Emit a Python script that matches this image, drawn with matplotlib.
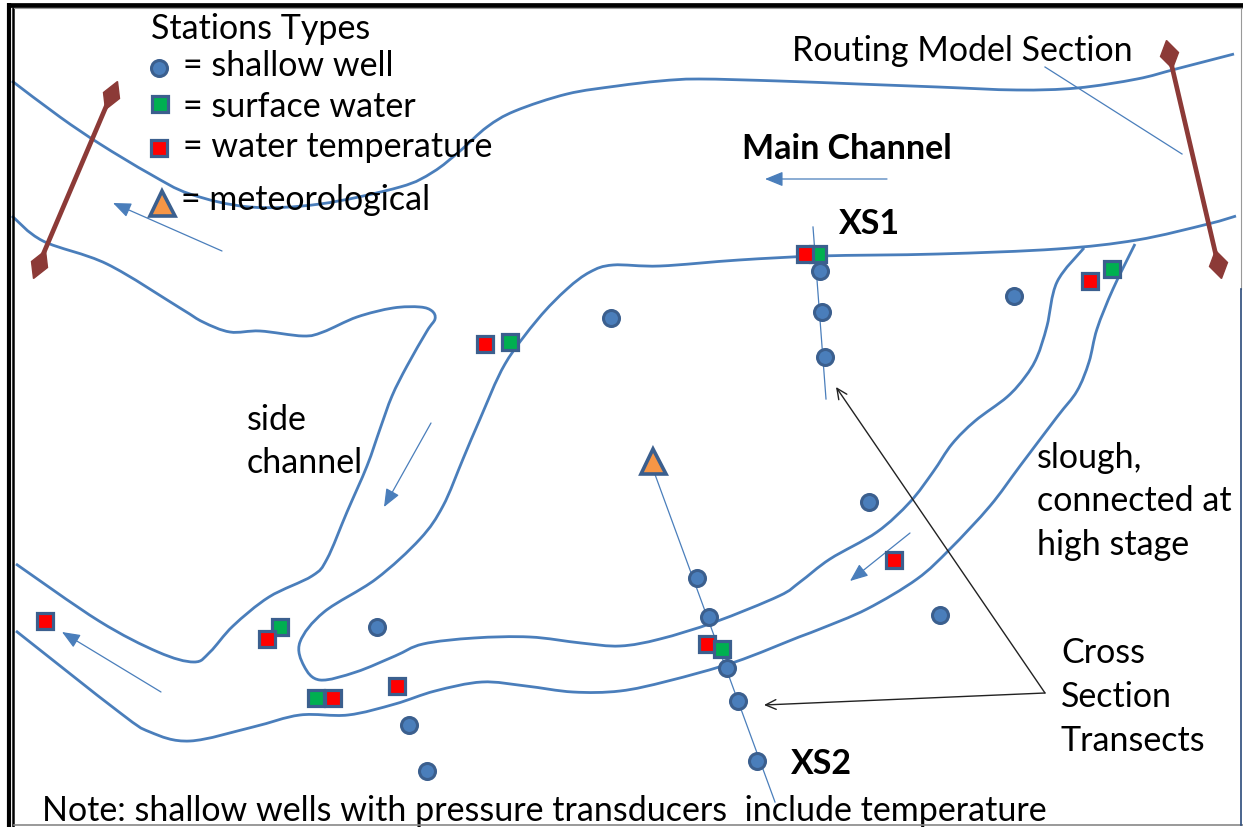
import matplotlib
matplotlib.use('Agg')
import matplotlib.pyplot as plt
from matplotlib.markers import MarkerStyle
from matplotlib.path import Path
from matplotlib.patches import PathPatch
from matplotlib.transforms import Affine2D
import numpy as np

plt.rcParams['font.family'] = ['Lato', 'DejaVu Sans']

# =============================================================================
# Data (pixel coordinates)
# =============================================================================
bank_top = [(12,82),(60,118),(100,145),(150,175),(190,195),(250,208),(320,205),(400,188),(433,173),
            (460,152),(487,128),(515,112),(567,95),(617,87),(660,82),(699,80),(779,82),(858,85),(938,88),
            (1017,91),(1077,89),(1137,80),(1176,70),(1234,55)]
bank_main = [(1236,217),(1208,225),(1137,241),(1057,250),(938,255),(819,257),(739,261),(660,267),
             (613,266),(590,273),(567,290),(538,320),(505,365),(480,420),(463,460),(443,507),(420,540),
             (376,580),(324,613),(300,643),(304,667),(320,681),(356,673),(395,657),(423,645),(474,639),
             (530,638),(581,644),(620,647),(660,640),(715,623),(779,597),(800,583),(830,560),(877,533),
             (910,503),(933,473),(952,445),(975,422),(1007,398),(1025,378),(1037,358),(1047,327),
             (1057,283),(1084,249)]
bank_slough = [(1135,245),(1113,290),(1097,330),(1089,363),(1077,392),(1057,418),(1020,467),(990,507),
               (950,550),(917,580),(867,610),(820,630),(799,638),(735,663),(668,682),(620,692),(573,693),
               (526,687),(482,683),(435,692),(395,705),(348,716),(300,716),(253,728),(190,742),(150,733),
               (119,713),(16,632)]
bank_side = [(12,217),(43,242),(107,265),(180,309),(203,323),(230,333),(260,332),(303,337),(323,333),
             (357,318),(393,309),(420,308),(432,312),(435,320),(427,332),(407,367),(392,397),(380,430),
             (367,467),(347,513),(327,560),(312,577),(269,598),(233,627),(210,653),(194,663),(158,653),
             (99,622),(16,565)]

well_x = [159,820,822,825,1014,611,869,940,697,709,727,738,757,377,409,427]
well_y = [69,272,313,358,297,319,503,616,579,618,669,702,762,628,726,772]
surface_x = [160,818,510,1112,280,316]
surface_y = [105,255,343,270,628,699]
temp_x = [159,805,485,1090,267,333,397,707,894,45]
temp_y = [149,255,345,282,640,699,687,645,561,622]
surface_top_x = [722]
surface_top_y = [650]
met_x = [162,653]
met_y = [204,462]

section_lines = [((111,96),(39,265)), ((1169,55),(1218,265))]
transects = [((813,228),(826,400)), ((653,470),(775,803))]
leader = ((1045,68),(1182,155))
flow_arrows = [((222,252),(113,204)), ((887,180),(765,180)), ((431,424),(384,508)),
               ((910,534),(850,582)), ((161,693),(62,633))]
xs_arrows = [((1045,694),(836,388)), ((1045,694),(764,706))]

# text, x, y, weight
labels = [('Stations Types',151,29,'normal'), ('= shallow well',183,66,'normal'),
          ('= surface water',183,107,'normal'), ('= water temperature',183,147,'normal'),
          ('= meteorological',181,200,'normal'), ('Routing Model Section',792,51,'normal'),
          ('Main Channel',742,149,'bold'), ('XS1',839,224,'bold'), ('XS2',791,764,'bold'),
          ('side',247,420,'normal'), ('channel',247,463,'normal'), ('slough,',1037,458,'normal'),
          ('connected at',1037,501,'normal'), ('high stage',1037,545,'normal'), ('Cross',1061,653,'normal'),
          ('Section',1061,697,'normal'), ('Transects',1061,741,'normal'),
          ('Note: shallow wells with pressure transducers  include temperature',42,811,'normal')]

BLUE = '#4a7ebb'
DARK = '#3b5f8e'
BROWN = '#8c3a37'

# =============================================================================
# Figure
# =============================================================================
fig = plt.figure(figsize=(12.43, 8.28), dpi=100)
ax = fig.add_axes([0, 0, 1, 1])
ax.set_xlim(0, 1243)
ax.set_ylim(828, 0)
ax.axis('off')


def draw_curve(pts):
    # catmull-rom through the read points, drawn as beziers
    p = np.array(pts, dtype=float)
    p = np.vstack([p[0], p, p[-1]])
    verts = [p[1]]
    codes = [Path.MOVETO]
    for i in range(1, len(p) - 2):
        verts += [p[i] + (p[i+1] - p[i-1]) / 6, p[i+1] - (p[i+2] - p[i]) / 6, p[i+1]]
        codes += [Path.CURVE4] * 3
    ax.add_patch(PathPatch(Path(verts, codes), fc='none', ec=BLUE, lw=2.0, zorder=2))


for bank in [bank_top, bank_main, bank_slough, bank_side]:
    draw_curve(bank)

# double frame
ax.plot([9, 9], [4, 828], color='black', lw=3, solid_capstyle='butt', zorder=6)
ax.plot([13.5, 13.5], [8, 828], color='black', lw=1.8, solid_capstyle='butt', zorder=6)
ax.plot([7, 1243], [5.5, 5.5], color='black', lw=3.4, solid_capstyle='butt', zorder=6)
ax.plot([14, 1243], [9, 9], color='#999999', lw=0.8, zorder=6)
ax.plot([14, 1243], [826.5, 826.5], color='#888888', lw=1.2, zorder=6)
ax.plot([1241, 1241], [9, 290], color='#999999', lw=0.8, zorder=6)
ax.plot([1241, 1241], [290, 826], color='#2a4a7a', lw=1.2, zorder=6)

# routing model sections
for a, b in section_lines:
    ax.plot([a[0], b[0]], [a[1], b[1]], color=BROWN, lw=3.4, zorder=3)
    ang = np.degrees(np.arctan2(b[0] - a[0], b[1] - a[1]))
    mk = MarkerStyle('d', transform=Affine2D().rotate_deg(ang))
    ax.plot([a[0], b[0]], [a[1], b[1]], ls='none', marker=mk, ms=15, mfc=BROWN, mec=BROWN, zorder=3)

# transect and leader lines
for a, b in transects + [leader]:
    ax.plot([a[0], b[0]], [a[1], b[1]], color=BLUE, lw=0.9, zorder=2)

for a, b in flow_arrows:
    ax.annotate('', xy=b, xytext=a, zorder=3,
                arrowprops=dict(arrowstyle='-|>,head_length=1.1,head_width=0.45', color=BLUE, lw=0.9,
                                shrinkA=0, shrinkB=0))
for a, b in xs_arrows:
    ax.annotate('', xy=b, xytext=a, zorder=3,
                arrowprops=dict(arrowstyle='->,head_length=0.75,head_width=0.35', color='#222222', lw=1.0,
                                shrinkA=0, shrinkB=0))

# stations
ax.plot(well_x, well_y, ls='none', marker='o', ms=11.5, mfc=BLUE, mec=DARK, mew=2.2, zorder=4)
ax.plot(surface_x, surface_y, ls='none', marker='s', ms=11.4, mfc='#00b050', mec=DARK, mew=2.3, zorder=4)
ax.plot(temp_x, temp_y, ls='none', marker='s', ms=11.4, mfc='#ff0000', mec=DARK, mew=2.3, zorder=4)
ax.plot(surface_top_x, surface_top_y, ls='none', marker='s', ms=11.4, mfc='#00b050', mec=DARK, mew=2.3, zorder=4)
ax.plot(met_x, met_y, ls='none', marker='^', ms=18, mfc='#f79646', mec=DARK, mew=2.6, zorder=4)

for txt, x, y, wt in labels:
    ax.text(x, y, txt, fontsize=24.5, fontweight=wt, color='black', va='center', ha='left', zorder=5)

fig.savefig('out.png', dpi=100)
